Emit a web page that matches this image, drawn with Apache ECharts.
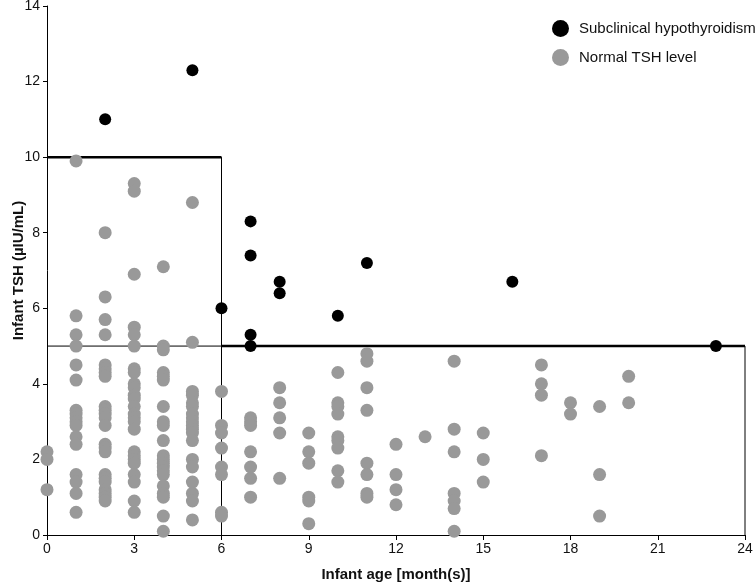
<!DOCTYPE html>
<html>
<head>
<meta charset="utf-8">
<script src="https://cdn.jsdelivr.net/npm/echarts@6/dist/echarts.min.js"></script>
<style>
html,body{margin:0;padding:0;background:#fff;}
#chart{width:755px;height:586px;}
</style>
</head>
<body>
<div id="chart"></div>
<script>
// Normal TSH level, grouped by infant age (months)
const normalAges = [0, 1, 2, 3, 4, 5, 6, 7, 8, 9, 10, 11, 12, 13, 14, 15, 17, 18, 19, 20];
const normalTSH = [
  [2.2, 2.0, 1.2],
  [9.9, 5.8, 5.3, 5.0, 4.5, 4.1, 3.3, 3.2, 3.1, 3.0, 2.9, 2.6, 2.4, 1.6, 1.4, 1.1, 0.6],
  [8.0, 6.3, 5.7, 5.3, 4.5, 4.4, 4.3, 4.2, 3.4, 3.3, 3.2, 3.1, 2.9, 2.4, 2.3, 2.2, 1.6, 1.5, 1.4, 1.2, 1.1, 1.0, 0.9],
  [9.3, 9.1, 6.9, 5.5, 5.3, 5.0, 4.4, 4.3, 4.0, 3.9, 3.7, 3.6, 3.4, 3.2, 3.1, 3.0, 2.8, 2.2, 2.1, 2.0, 1.9, 1.6, 1.4, 0.9, 0.6],
  [7.1, 5.0, 4.9, 4.3, 4.2, 4.1, 3.4, 3.0, 2.9, 2.5, 2.1, 2.0, 1.9, 1.8, 1.7, 1.6, 1.3, 1.1, 1.0, 0.5, 0.1],
  [8.8, 5.1, 3.8, 3.7, 3.5, 3.4, 3.2, 3.1, 3.0, 2.9, 2.8, 2.7, 2.5, 2.0, 1.8, 1.4, 1.1, 0.9, 0.4],
  [3.8, 2.9, 2.7, 2.3, 1.8, 1.6, 0.6, 0.5],
  [3.1, 3.0, 2.9, 2.2, 1.8, 1.5, 1.0],
  [3.9, 3.5, 3.1, 2.7, 1.5],
  [2.7, 2.2, 1.9, 1.0, 0.9, 0.3],
  [4.3, 3.5, 3.4, 3.2, 2.6, 2.5, 2.3, 1.7, 1.4],
  [4.8, 4.6, 3.9, 3.3, 1.9, 1.6, 1.1, 1.0],
  [2.4, 1.6, 1.2, 0.8],
  [2.6],
  [4.6, 2.8, 2.2, 1.1, 0.9, 0.7, 0.1],
  [2.7, 2.0, 1.4],
  [4.5, 4.0, 3.7, 2.1],
  [3.5, 3.2],
  [3.4, 1.6, 0.5],
  [4.2, 3.5]
];

// Subclinical hypothyroidism
const subAges = [2, 5, 6, 7, 7, 7, 7, 8, 8, 10, 11, 16, 23];
const subTSH  = [11.0, 12.3, 6.0, 8.3, 7.4, 5.3, 5.0, 6.7, 6.4, 5.8, 7.2, 6.7, 5.0];

// Reference cut-off boxes: [age from, age to, TSH upper limit]
const cutoffAgeFrom = [0, 6];
const cutoffAgeTo   = [6, 24];
const cutoffTSH     = [10, 5];

const xTicks = [0, 3, 6, 9, 12, 15, 18, 21, 24];
const yTicks = [0, 2, 4, 6, 8, 10, 12, 14];

const normalPts = [];
normalAges.forEach((a, i) => normalTSH[i].forEach(v => normalPts.push([a, v])));
const subPts = subAges.map((a, i) => [a, subTSH[i]]);

const FONT = '"Liberation Sans", Arial, sans-serif';

const lineSeries = [];
cutoffAgeFrom.forEach((x0, i) => {
  const x1 = cutoffAgeTo[i], y = cutoffTSH[i];
  lineSeries.push({type: 'line', data: [[x0, y], [x1, y]], symbol: 'none', silent: true,
    lineStyle: {color: '#000', width: 2.5}, z: 1, animation: false});
  lineSeries.push({type: 'line', data: [[x1, y], [x1, 0]], symbol: 'none', silent: true,
    lineStyle: {color: '#000', width: 1}, z: 1, animation: false});
});
lineSeries.push({type: 'line', data: [[cutoffAgeFrom[0], cutoffTSH[1]], [cutoffAgeFrom[1], cutoffTSH[1]]],
  symbol: 'none', silent: true, lineStyle: {color: '#000', width: 1}, z: 1, animation: false});

const chart = echarts.init(document.getElementById('chart'), null, {renderer: 'canvas'});
chart.setOption({
  animation: false,
  backgroundColor: '#fff',
  textStyle: {fontFamily: FONT},
  grid: {left: 47, right: 10, top: 6, bottom: 51, containLabel: false, outerBoundsMode: 'none'},
  legend: {
    data: ['Subclinical hypothyroidism', 'Normal TSH level'],
    orient: 'vertical',
    left: 547, top: 15,
    itemWidth: 17, itemHeight: 17, itemGap: 12,
    icon: 'circle',
    textStyle: {fontFamily: FONT, fontSize: 15, color: '#111', padding: [0, 0, 0, 5]}
  },
  xAxis: {
    type: 'value', min: 0, max: 24, interval: 3,
    name: 'Infant age [month(s)]', nameLocation: 'middle', nameGap: 32, nameMoveOverlap: false,
    nameTextStyle: {fontFamily: FONT, fontSize: 15, fontWeight: 'bold', color: '#111'},
    axisLine: {show: true, lineStyle: {color: '#000', width: 1}},
    axisTick: {show: true, length: 5, lineStyle: {color: '#000'}},
    axisLabel: {fontFamily: FONT, fontSize: 14, color: '#111', margin: 7,
      formatter: v => xTicks.includes(v) ? String(v) : ''},
    splitLine: {show: false}
  },
  yAxis: {
    type: 'value', min: 0, max: 14, interval: 2,
    name: 'Infant TSH (µIU/mL)', nameLocation: 'middle', nameGap: 21, nameMoveOverlap: false,
    nameTextStyle: {fontFamily: FONT, fontSize: 15, fontWeight: 'bold', color: '#111'},
    axisLine: {show: true, lineStyle: {color: '#000', width: 1}},
    axisTick: {show: true, length: 4, lineStyle: {color: '#000'}},
    axisLabel: {fontFamily: FONT, fontSize: 14, color: '#111', margin: 7,
      formatter: v => yTicks.includes(v) ? String(v) : ''},
    splitLine: {show: false}
  },
  series: [
    ...lineSeries,
    {
      name: 'Normal TSH level', type: 'scatter', data: normalPts,
      symbol: 'circle', symbolSize: 13,
      itemStyle: {color: '#999999', opacity: 1}, z: 2
    },
    {
      name: 'Subclinical hypothyroidism', type: 'scatter', data: subPts,
      symbol: 'circle', symbolSize: 12,
      itemStyle: {color: '#000000', opacity: 1}, z: 3
    }
  ]
});
</script>
</body>
</html>
